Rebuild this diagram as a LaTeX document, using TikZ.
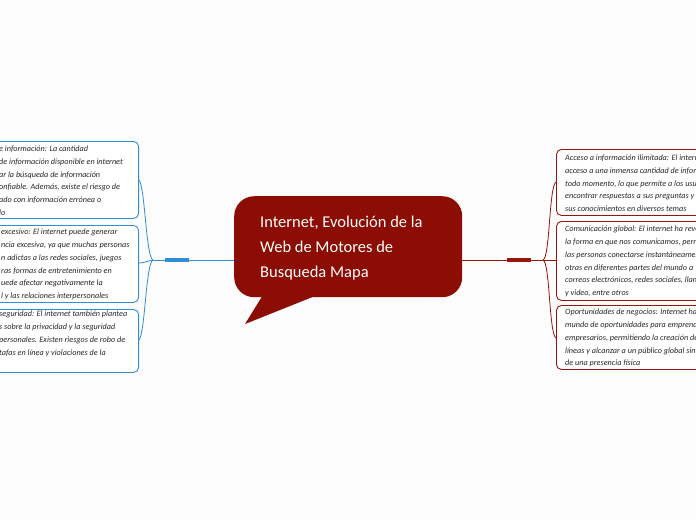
\documentclass[tikz,border=0pt]{standalone}
\usepackage{fontspec}
\setmainfont{Carlito}
\definecolor{bgc}{RGB}{252,252,252}
\definecolor{lblue}{RGB}{52,141,210}
\definecolor{rred}{RGB}{150,22,14}
\definecolor{bubble}{RGB}{139,13,3}
\definecolor{txt}{RGB}{40,40,40}
\begin{document}
\begin{tikzpicture}[x=1pt,y=-1pt,
  lbox/.style={draw=lblue, line width=0.9pt, rounded corners=5pt, fill=white, inner sep=0pt},
  rbox/.style={draw=rred, line width=0.9pt, rounded corners=5pt, fill=white, inner sep=0pt},
  btext/.style={font=\fontsize{8.2}{12.7}\selectfont\itshape, align=left, inner sep=0pt, text=txt, anchor=north west},
  lline/.style={draw=lblue, line width=0.8pt},
  rline/.style={draw=rred, line width=0.8pt},
  lthick/.style={draw=lblue, line width=3.5pt},
  rthick/.style={draw=rred, line width=3.5pt},
  jdot/.style={inner sep=0pt, minimum size=0pt}]
\useasboundingbox (0,0) rectangle (696,520);
\fill[bgc] (0,0) rectangle (696,520);
\clip (0,0) rectangle (696,520);

% central bubble
\fill[bubble] (266,290) -- (245,324) -- (330,290) -- cycle;
\node[fill=bubble, rounded corners=20pt, minimum width=228pt, minimum height=101pt, anchor=north west, inner sep=0pt] (c) at (234,196) {};
\node[font=\fontsize{16.5}{25}\selectfont, text=white, align=left, anchor=north west, inner sep=0pt] (ct) at (260,216)
  {Internet, Evolución de la\\Web de Motores de\\Busqueda Mapa};

% left branch
\node[jdot] (jl) at (153,260) {};
\coordinate (la) at (165,260);
\coordinate (lb) at (189,260);
\draw[lline] (c.west |- 0,260) -- (jl);
\draw[lthick] (la) -- (lb);

\node[lbox, anchor=north east, minimum width=230pt, minimum height=77pt] (b1) at (139,141) {};
\node[lbox, anchor=north east, minimum width=230pt, minimum height=77pt] (b2) at (139,225) {};
\node[lbox, anchor=north east, minimum width=230pt, minimum height=63pt] (b3) at (139,309) {};

\node[btext] (t1) at (-1,146) {e información: La cantidad\\de información disponible en internet\\ar la búsqueda de información\\onfiable. Además, existe el riesgo de\\ado con información errónea o\\lo};
\node[btext] (t2) at (1,229) {excesivo: El internet puede generar\\ncia excesiva, ya que muchas personas\\n adictas a las redes sociales, juegos\\ras formas de entretenimiento en\\uede afectar negativamente la\\l y las relaciones interpersonales};
\node[btext] (t3) at (-1,311) {seguridad: El internet también plantea\\s sobre la privacidad y la seguridad\\personales. Existen riesgos de robo de\\tafas en línea y violaciones de la};

\draw[lline] (jl.center) .. controls (146,258) and (145,186) .. (b1.east |- 0,180);
\draw[lline] (jl.center) .. controls (147,261) and (144,263) .. (b2.east |- 0,263);
\draw[lline] (jl.center) .. controls (146,262) and (145,334) .. (b3.east |- 0,340);

% right branch
\node[jdot] (jr) at (543,260) {};
\coordinate (ra) at (507,260);
\coordinate (rb) at (531,260);
\draw[rline] (c.east |- 0,260) -- (jr);
\draw[rthick] (ra) -- (rb);

\node[rbox, anchor=north west, minimum width=230pt, minimum height=66pt] (b4) at (556,149) {};
\node[rbox, anchor=north west, minimum width=230pt, minimum height=79pt] (b5) at (556,221) {};
\node[rbox, anchor=north west, minimum width=230pt, minimum height=64pt] (b6) at (556,305) {};

\node[btext] (t4) at (565,155) {Acceso a información ilimitada: El internet\\acceso a una inmensa cantidad de información\\todo momento, lo que permite a los usuarios\\encontrar respuestas a sus preguntas y\\sus conocimientos en diversos temas};
\node[btext] (t5) at (565,226) {Comunicación global: El internet ha revolucionado\\la forma en que nos comunicamos, permitiendo\\las personas conectarse instantáneamente\\otras en diferentes partes del mundo a\\correos electrónicos, redes sociales, llamadas\\y video, entre otros};
\node[btext] (t6) at (565,309) {Oportunidades de negocios: Internet ha\\mundo de oportunidades para emprendedores\\empresarios, permitiendo la creación de\\líneas y alcanzar a un público global sin\\de una presencia física};

\draw[rline] (jr.center) .. controls (550,258) and (549,186) .. (b4.west |- 0,182);
\draw[rline] (jr.center) -- (b5.west |- 0,260);
\draw[rline] (jr.center) .. controls (550,262) and (549,334) .. (b6.west |- 0,338);
\end{tikzpicture}
\end{document}
